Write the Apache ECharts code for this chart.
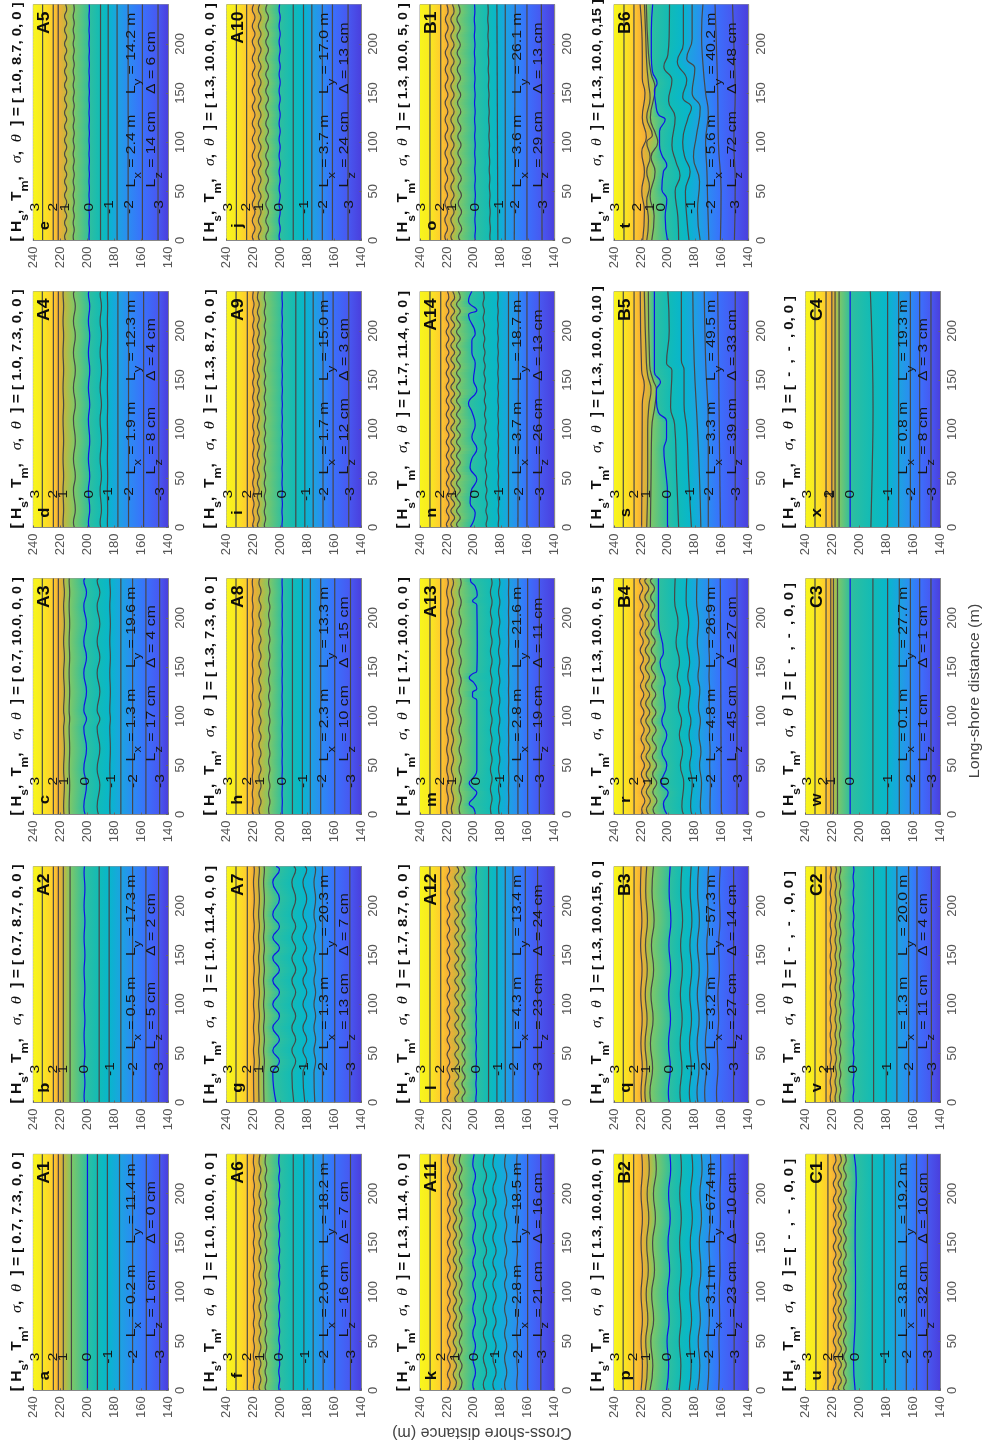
<!DOCTYPE html>
<html><head><meta charset="utf-8">
<style>html,body{margin:0;padding:0;background:#fff}#c{width:983px;height:1448px}</style>
<script src="https://cdn.jsdelivr.net/npm/echarts@6/dist/echarts.min.js"></script>
</head><body><div id="c"></div>
<script>
// ---------- tick labels / axes ----------
const crossShoreTicks = [140,160,180,200,220,240];
const longShoreTicks  = [0,50,100,150,200];
// contour levels, in the order used by the base arrays below
const levels = [3,2,1.5,1,.5,0,-.5,-1,-1.5,-2,-2.5,-3];
const levelColors = ['#F9E921','#FFCB2E','#F4AE37','#C6B63D','#7FC867','#2FBF9E','#12BBB6','#08B6CC','#1CA3E0','#2B8CF2','#3A70FC','#4858F0'];
const edgeColors = ['#F8F61C','#4A3FDD'];
// ---------- panel identity ----------
const letters = ['a','b','c','d','e','f','g','h','i','j','k','l','m','n','o','p','q','r','s','t','u','v','w','x'];
const codes = ['A1','A2','A3','A4','A5','A6','A7','A8','A9','A10','A11','A12','A13','A14','B1','B2','B3','B4','B5','B6','C1','C2','C3','C4'];
const params = ['[ 0.7, 7.3, 0, 0 ]','[ 0.7, 8.7, 0, 0 ]','[ 0.7, 10.0, 0, 0 ]','[ 1.0, 7.3, 0, 0 ]','[ 1.0, 8.7, 0, 0 ]',
 '[ 1.0, 10.0, 0, 0 ]','[ 1.0, 11.4, 0, 0 ]','[ 1.3, 7.3, 0, 0 ]','[ 1.3, 8.7, 0, 0 ]','[ 1.3, 10.0, 0, 0 ]',
 '[ 1.3, 11.4, 0, 0 ]','[ 1.7, 8.7, 0, 0 ]','[ 1.7, 10.0, 0, 0 ]','[ 1.7, 11.4, 0, 0 ]','[ 1.3, 10.0, 5, 0 ]',
 '[ 1.3, 10.0,10, 0 ]','[ 1.3, 10.0,15, 0 ]','[ 1.3, 10.0, 0, 5 ]','[ 1.3, 10.0, 0,10 ]','[ 1.3, 10.0, 0,15 ]',
 '[  -  ,  -  , 0, 0 ]','[  -  ,  -  , 0, 0 ]','[  -  ,  -  , 0, 0 ]','[  -  ,  -  , 0, 0 ]'];
const Lx = ['0.2','0.5','1.3','1.9','2.4','2.0','1.3','2.3','1.7','3.7','2.8','4.3','2.8','3.7','3.6','3.1','3.2','4.8','3.3','5.6','3.8','1.3','0.1','0.8'];
const Ly = ['11.4','17.3','19.6','12.3','14.2','18.2','20.3','13.3','15.0','17.0','18.5','13.4','21.6','18.7','26.1','67.4','57.3','26.9','49.5','40.2','19.2','20.0','27.7','19.3'];
const Lz = [1,5,17,8,14,16,13,10,12,24,21,23,19,26,29,23,27,45,39,72,32,11,1,8];
const Delta = [0,2,4,4,6,7,7,15,3,13,16,24,11,13,13,10,14,27,33,48,10,4,1,3];
// ---------- contour positions (cross-shore m) at long-shore 0 ----------
const baseA1=[233.3,225.1,221.4,217.7,211.7,199.8,192.4,185,176,166.3,156.1,146.2];
const baseA2=[233.3,225.1,221.4,217.7,212.7,202,191.1,183.7,175,166.3,156.4,147];
const baseA3=[233.3,225.1,221.4,217.2,213.2,201.5,191.6,183,175,166.3,156.4,146.2];
const baseA4=[233.3,225.1,221.4,217.7,209.5,198.6,189.9,184.9,177.2,169.3,158.1,146.9];
const baseA5=[233.1,225.2,221.5,216,210,198.5,190.1,184.4,177.8,169.6,159,147.4];
const baseA6=[233.1,224.7,219.8,215.3,210.9,201,190.6,182.7,175.8,168.4,159.8,148.1];
const baseA7=[233.1,224.7,219.8,216,212.3,203.3,190.2,182,174.6,168.9,159.8,148.6];
const baseA8=[233.1,224.7,220.7,215.3,208.4,198.8,191.2,183.8,177.9,170.2,159.8,148.1];
const baseA9=[233.1,224.7,220.2,216.5,211.6,198.8,188.7,182,175.8,168.5,161,149.4];
const baseA10=[232.8,225.2,220,215.5,210,200.7,190.6,183,176.8,169,161.5,149.9];
const baseA11=[232.5,224.2,218.6,214.1,209.8,199.8,191.8,184.7,176.4,167.9,160.1,150.3];
const baseA12=[232.6,224.6,218.9,212.7,207.7,198.3,189.1,182.9,176.7,171,161.8,152.7];
const baseA13=[232.6,224.6,219.6,215.9,210.2,197.8,187.1,181.2,174.2,167.3,160.1,151.4];
const baseA14=[232.6,224.6,219.4,215.7,211.5,201,190.4,181.7,174.3,167.3,160.6,151.4];
const baseB1=[232.6,224.6,220.6,215.9,210.2,199,187.9,182.2,176.7,170,160.6,149.4];
const baseB2=[233.2,225.4,219.4,216.1,212.4,200.3,191,183.5,177.2,170.2,162.1,150.8];
const baseB3=[233.1,225.1,219.4,216.4,212.5,199,190.4,183.4,177.7,172.3,163.6,151.2];
const baseB4=[233.1,225.1,218.2,214.4,209.5,200.8,188.4,182.2,175.2,168.5,160.3,148.7];
const baseB5=[233.1,225.1,219.5,215.7,213,200.3,192,182.5,175.5,170,161,150];
const baseB6=[232.6,225.2,218.7,215.7,212,200.3,192,184.3,176,169.6,161,150.6];
const baseC1=[232.4,223.5,218.5,214.7,210.9,203.3,190.6,181.8,173.4,165.3,157.7,149.6];
const baseC2=[233.1,224.9,221.4,217.7,214.4,204.5,189.6,180.2,172.3,163.6,157.4,146.7];
const baseC3=[233.1,224.9,221.4,219.4,216.4,207,190.1,179.2,170.5,162.3,155.4,147];
const baseC4=[233.1,224.9,220.6,218.2,215.2,207,191.6,179.2,171,162.3,155.4,147];
const bases=[baseA1,baseA2,baseA3,baseA4,baseA5,baseA6,baseA7,baseA8,baseA9,baseA10,baseA11,baseA12,baseA13,baseA14,baseB1,baseB2,baseB3,baseB4,baseB5,baseB6,baseC1,baseC2,baseC3,baseC4];
// contour positions at long-shore 240, where they differ from long-shore 0
const topA14=[232.6,224.6,219.6,215.7,211.5,203,192.9,182.2,174.3,166.8,160.6,151.4];
const topB1=[232.6,224.6,220.1,215.9,211.5,199.5,189.6,182.9,176.7,169.3,160.6,149.9];
const topB2=[233.2,225.4,219.4,214.4,209.3,198.5,190.5,182.2,175.2,168.4,160.9,150.8];
const topB3=[233.1,225.1,219.9,215.7,210.7,198.3,189.6,182.7,177.2,169.8,161.1,151.2];
const topB4=[233.1,225.1,219.9,215.7,211.5,207,194.6,186,178.4,169.8,161.1,148.7];
const tops={13:topA14,14:topB1,15:topB2,16:topB3,17:topB4};
// ---------- long-shore positions of ripple crests and troughs, read per panel ----------
const waveA2=[6,20,36,50,68,84,100,116,134,150,168,184,200,218,234];
const waveA3=[8,30,46,67,88,97,106,125,144,160,176,194,212,226,238];
const waveA4=[5,18,38,52,70,88,110,125,142,160,178,195,210,225,238];
const waveA5=[4,11,18,25,32,39,46,53,60,67,74,81,88,95,102,109,116,123,130,137,144,151,158,165,172,179,186,193,200,207,214,221,228,235];
const waveA6=[3,11,19,27,35,44,52,60,68,76,85,93,101,109,117,126,134,142,150,158,167,175,183,191,199,208,216,224,232];
const waveA7=[30,42,53,64,76,88,100,112,124,135,147,157,168,179,191,207,224,237];
const waveA8=[5,13,21,29,38,46,54,62,71,79,87,95,104,112,120,128,137,145,153,161,170,178,186,194,203,211,219,227,236];
const waveA9=[2,9,16,24,31,38,45,53,60,67,74,82,89,96,103,111,118,125,132,140,147,154,161,169,176,183,190,198,205,212,219,227,234];
const waveA10=[4,12,20,29,37,45,53,62,70,78,86,95,103,111,119,128,136,144,152,161,169,177,185,194,202,210,218,227,235];
const waveA11=[0,8,16,25,33,41,49,58,66,75,83,91,99,108,116,125,133,141,150,158,166,175,183,191,200,208,216,225,233];
const seaA11=[6,18,33,45,58,70,83,96,108,118,130,142,155,168,180,192,205,218,230];
const waveA12=[4,11,19,26,34,41,49,56,64,71,79,86,94,101,109,116,124,131,139,146,154,161,169,176,184,191,199,206,214,221,229,236];
const waveA13=[6,16,26,36,46,56,66,76,86,96,106,116,126,136,146,156,166,176,186,196,206,216,226,236];
const waveA14=[3,10,17,24,31,38,45,52,59,66,73,80,87,94,101,108,115,122,129,136,143,150,157,164,171,178,185,192,199,206,213,220,227,234];
const waveB1=[4,12,21,29,38,46,55,63,72,80,89,97,106,114,123,131,140,148,157,165,174,182,191,199,208,216,225,233];
const waveB2=[0,25,50,72,98,122,150,175,200,225];
const waveB3=[10,35,60,85,110,135,160,185,215];
const waveB4=[5,14,23,32,41,50,59,68,77,86,95,104,113,122,131,140,149,158,167,176,185,194,203,212,221,230,238];
const seaB4=[8,32,50,64,81,95,109,127,140,155,175,195,218];
const waveC1=[2,10,18,26,34,42,50,58,66,74,82,90,98,106,114,122,130,138,146,154,162,170,178,186,194,202,210,218,226,234];
const waveC2=[5,13,21,29,37,45,53,61,69,77,85,93,101,109,117,125,133,141,149,157,165,173,181,189,197,205,213,221,229,237];
const waves={1:waveA2,2:waveA3,3:waveA4,4:waveA5,5:waveA6,6:waveA7,7:waveA8,8:waveA9,9:waveA10,10:waveA11,11:waveA12,12:waveA13,13:waveA14,14:waveB1,15:waveB2,16:waveB3,17:waveB4,20:waveC1,21:waveC2};
const seaWaves={10:seaA11,17:seaB4};
// ripple size of each contour, metres (levels order)
const ampA2=[0,0,0,0,0,.3,0,0,0,0,0,0];
const ampA3=[0,0,0,.3,.2,1,1,.2,0,0,0,0];
const ampA4=[0,0,0,.2,.7,.5,.5,.1,0,0,0,0];
const ampA5=[0,0,0,.8,.4,.15,0,0,0,0,0,0];
const ampA6=[0,0,.4,.7,.6,.35,0,0,0,0,0,0];
const ampA7=[0,0,.3,.3,.3,2.5,1.4,1.4,.6,0,0,0];
const ampA8=[0,0,.3,.8,.5,.1,0,0,0,0,0,0];
const ampA9=[0,0,.5,.7,.5,.15,0,0,0,0,0,0];
const ampA10=[0,0,1,1,1,.4,0,0,0,0,0,0];
const ampA11=[0,0,1,1.2,1,0,0,0,0,0,0,0];
const seaAmpA11=[0,0,0,0,0,1,1.2,1.2,.8,.3,0,0];
const ampA12=[0,0,1,1.5,1.2,.2,0,0,0,0,0,0];
const ampA13=[0,0,.6,.8,.8,0,.6,.5,.1,0,0,0];
const ampA14=[0,0,1,1.4,1.4,0,.5,.2,0,0,0,0];
const ampB1=[0,0,1,1.2,1.2,.2,.2,0,0,0,0,0];
const ampB2=[0,0,.5,.7,.9,.7,.6,.7,.7,.4,.2,0];
const ampB3=[0,0,.5,.7,.9,.7,.7,.7,.7,.5,.4,0];
const ampB4=[0,0,1.2,1.5,1.5,0,0,0,0,0,0,0];
const seaAmpB4=[0,0,0,0,0,0,1,.8,.6,.2,0,0];
const ampC1=[0,0,1,1.2,1,0,0,0,0,0,0,0];
const ampC2=[0,0,.4,.5,.5,.3,0,0,0,0,0,0];
const amps={1:ampA2,2:ampA3,3:ampA4,4:ampA5,5:ampA6,6:ampA7,7:ampA8,8:ampA9,9:ampA10,10:ampA11,11:ampA12,12:ampA13,13:ampA14,14:ampB1,15:ampB2,16:ampB3,17:ampB4,20:ampC1,21:ampC2};
const seaAmps={10:seaAmpA11,17:seaAmpB4};
// ---------- contours traced individually: [long-shore, cross-shore] ----------
const zeroA13=[[0,199],[6,200],[11,203.5],[17,200],[22,197.8],[27,201],[32,203.5],[38,200],[45,197.8],[116,197.8],[120,201],[124,201],[128,197.8],[134,200],[139,203.5],[143,201],[146,197.8],[170,197.5],[213,197.8],[217,201],[223,197.5],[232,199],[238,202.5],[240,202.5]];
const zeroA14=[[0,202.8],[15,199],[25,202.8],[37,202],[49,197.8],[61,202.8],[70,201.5],[80,197.8],[92,201.5],[104,199],[118,201.5],[126,204],[140,197.8],[150,200.3],[167,199],[178,201.5],[190,201.5],[197,199],[216,204],[221,197.8],[230,204],[240,201.5]];
const zeroB4=[[0,200.6],[11,203.3],[22,199.8],[32,205],[50,200.8],[64,204.5],[81,200.8],[95,204.5],[109,202],[127,203.3],[134,202],[155,205.8],[165,203.3],[197,207],[240,207]];
const zeroB5=[[0,200.3],[35,200.3],[56,201.5],[80,203],[91,201],[108,201],[117,207],[129,208.5],[140,208.5],[148,205.5],[158,210],[171,210],[209,210],[240,210]];
const tracedB5={
 2:[[0,219.5],[125,219],[145,217.5],[160,219.5],[240,220.5]],
 3:[[0,215.7],[50,215],[100,215],[125,214],[140,212.5],[155,215],[170,216],[240,217.5]],
 4:[[0,213],[50,212.5],[100,212],[125,209.5],[140,208.5],[150,211],[165,213.5],[240,214.5]],
 5:zeroB5,
 6:[[0,192],[53,193.5],[105,195],[122,198],[160,197],[167,201],[200,199],[240,200]],
 7:[[0,182.5],[50,184.5],[100,186],[125,188],[160,188],[170,190],[240,190]],
 8:[[0,175.5],[50,176.5],[100,178],[170,180.5],[240,181.5]],
 9:[[0,170],[50,170],[100,170],[170,172],[240,173]],
 10:[[0,161],[240,163]],11:[[0,150],[240,150]]};
const tracedB6={
 2:[[0,218.7],[30,217.4],[50,219.4],[70,217.4],[90,219.4],[105,216],[125,219],[150,217],[165,219],[190,219],[215,219.4],[240,220.6]],
 3:[[0,215.7],[20,214.4],[40,215.7],[55,213.7],[70,215.7],[85,213.2],[100,215.7],[107,211.5],[125,215.7],[145,213.2],[160,214.4],[180,215.7],[210,216.5],[240,217.4]],
 4:[[0,212],[25,210.2],[45,213.2],[70,209.5],[85,212.5],[100,207.5],[108,209],[125,213],[155,209.5],[170,212.5],[190,214.4],[240,216]],
 5:[[0,200.3],[24,202],[42,200.8],[52,204.5],[70,203.3],[76,200.8],[87,204.5],[97,206.2],[111,206.2],[123,202],[128,207],[139,209],[153,210],[160,208],[172,211.5],[188,212.3],[212,212.3],[240,211.3]],
 6:[[0,192],[24,192.6],[50,194.6],[66,191],[80,194],[97,197],[125,194.6],[142,199.5],[163,197],[177,203],[189,200],[212,199],[240,198.8]],
 7:[[0,184.3],[24,186],[50,187],[70,183.5],[85,187.5],[100,189],[125,185],[135,182.5],[146,189],[163,186],[182,193],[200,188.5],[240,188.5]],
 8:[[0,176],[30,178],[60,176.5],[85,181],[105,179],[135,176],[150,182],[175,180],[185,186],[205,182],[240,182]],
 9:[[0,169.6],[40,170.5],[70,171],[100,172],[130,170],[150,172],[180,174],[210,175],[240,174]],
 10:[[0,161],[50,160.5],[100,162.5],[150,163],[200,164],[240,165]],
 11:[[0,150.6],[60,150],[100,151],[150,150],[200,151],[240,152]]};
const traced={12:{5:zeroA13},13:{5:zeroA14},17:{5:zeroB4},18:tracedB5,19:tracedB6,
 20:{5:[[0,203.3],[30,204.5],[70,203.3],[110,203],[150,203.3],[190,203],[215,202.5],[240,204]]},
 23:{6:[[0,191.6],[60,190.6],[120,190],[180,190.6],[240,192]]}};
// contour-label positions that do not sit on their contour: {level index: cross-shore}
const labelShift={21:{3:221.5,1:226.5},22:{3:221,1:227},23:{3:222,1:222.5},19:{1:223,3:213,5:205,7:183.4,9:168.5,11:150.4},
 18:{3:216,5:200.5,7:184},13:{5:199},6:{5:204,7:183},12:{5:198},17:{5:202}};
// ---------- layout ----------
const colLefts=[33.3,226.7,420,614,805.7], rowTops=[1154.3,866.5,578.5,291.5,4.5], panelW=134.7, panelH=236;
const textColor='#161616', axisColor='#555';
const labelLevels=[1,3,5,7,9,11];
const labelTexts=['2','1','0','-1','-2','-3'];

function contour(p,k){
  if(traced[p]&&traced[p][k]) return traced[p][k];
  const b=bases[p][k], t=(tops[p]||bases[p])[k], line=L=>b+(t-b)*L/240;
  let w=null,a=0;
  if(amps[p]&&amps[p][k]){w=waves[p];a=amps[p][k];}
  else if(seaAmps[p]&&seaAmps[p][k]){w=seaWaves[p];a=seaAmps[p][k];}
  if(!w) return [[0,b],[240,t]];
  const pts=w.map((L,i)=>[L,line(L)+(i%2?-a:a)]);
  if(pts[0][0]>0) pts.unshift([0,b]);
  pts.push([240,t]);
  return pts;
}
function at(pts,L){
  for(let i=1;i<pts.length;i++) if(L<=pts[i][0]){
    const f=(L-pts[i-1][0])/(pts[i][0]-pts[i-1][0]);
    return pts[i-1][1]+f*(pts[i][1]-pts[i-1][1]);
  }
  return pts[pts.length-1][1];
}
const strips=[];
for(let L=0;L<240;L+=3) strips.push([L,L+3]);

const grids=[],xAxes=[],yAxes=[],series=[],graphics=[];
const FONT='"Liberation Sans"';
const richL={n:{fontSize:13.5,fill:textColor,fontFamily:FONT},
  s:{fontSize:11,fill:textColor,fontFamily:FONT,verticalAlign:'bottom',padding:[15,0,0,0]}};
const richT={t:{fontSize:14.2,fontWeight:'bold',fill:'#111',fontFamily:FONT},
  v:{fontSize:13.6,fontWeight:'bold',fill:'#111',fontFamily:FONT},
  s:{fontSize:11.5,fontWeight:'bold',fill:'#111',fontFamily:FONT,verticalAlign:'bottom',padding:[16,0,0,0]},
  g:{fontSize:15,fontStyle:'italic',fill:'#111',fontFamily:'"Liberation Serif"'}};

letters.forEach((lt,p)=>{
  const col=(p<5?0:p<10?1:p<15?2:p<20?3:4);
  const row=(p<20?p%5:p-20);
  const left=colLefts[col],top=rowTops[row];
  grids.push({left:left,top:top,width:panelW,height:panelH,show:true,borderColor:'#999',borderWidth:1,backgroundColor:'transparent'});
  xAxes.push({gridIndex:p,type:'value',min:crossShoreTicks[0],max:crossShoreTicks[crossShoreTicks.length-1],interval:20,inverse:true,position:'bottom',z:6,
    axisLine:{show:true,onZero:false,lineStyle:{color:'#888',width:1}},axisTick:{inside:true,length:2,lineStyle:{color:'#666'}},
    axisLabel:{rotate:90,fontSize:13,margin:6,color:axisColor,fontFamily:'Liberation Sans',hideOverlap:false},splitLine:{show:false}});
  yAxes.push({gridIndex:p,type:'value',min:longShoreTicks[0],max:240,interval:50,position:'right',z:6,
    axisLine:{show:true,onZero:false,lineStyle:{color:'#888',width:1}},axisTick:{inside:true,length:2,lineStyle:{color:'#666'}},
    axisLabel:{rotate:90,fontSize:13,margin:6,color:axisColor,fontFamily:'Liberation Sans',showMaxLabel:false,hideOverlap:false},splitLine:{show:false}});
  const cs=levels.map((_,k)=>contour(p,k));
  series.push({type:'custom',xAxisIndex:p,yAxisIndex:p,coordinateSystem:'cartesian2d',silent:true,z:1,clip:true,data:strips,
    renderItem:(params,api)=>{
      const L0=api.value(0),L1=api.value(1);
      const a=api.coord([240,L1]),b=api.coord([140,L0]);
      const mid=(L0+L1)/2;
      const stops=[{offset:0,color:edgeColors[0]}];
      let last=0;
      cs.forEach((pts,k)=>{
        let off=Math.min(1,Math.max(last,(240-at(pts,mid))/100));last=off;
        stops.push({offset:off,color:levelColors[k]});
      });
      stops.push({offset:1,color:edgeColors[1]});
      const y0=Math.floor(a[1]),y1=Math.ceil(b[1]);
      return {type:'rect',shape:{x:a[0],y:y0,width:b[0]-a[0],height:y1-y0},
        style:{fill:{type:'linear',x:0,y:0,x2:1,y2:0,colorStops:stops}}};
    }});
  cs.forEach((pts,k)=>{
    series.push({type:'line',xAxisIndex:p,yAxisIndex:p,z:2,silent:true,showSymbol:false,smooth:pts.length>2?0.5:false,
      data:pts.map(q=>[q[1],q[0]]),
      lineStyle:{color:levels[k]===0?'#1212E6':'#484848',width:1.2}});
  });
  // texts placed through the axes
  const plain=(cx,L,s)=>({at:[cx,L],sx:1.15,style:{text:s,fontSize:13.5,fontFamily:FONT,fill:textColor,align:'center',verticalAlign:'middle'}});
  const bold=(cx,L,s,size,al)=>({at:[cx,L],sx:1.1,style:{text:s,fontSize:size,fontWeight:'bold',fontFamily:FONT,fill:'#0c0c0c',align:al,verticalAlign:'middle'}});
  const rich=(cx,L,s)=>({at:[cx,L],sx:1.17,style:{text:s,rich:richL,align:'left',verticalAlign:'middle'}});
  const items=[plain(238.8,34,'3')];
  labelLevels.forEach((k,i)=>{
    const pos=(labelShift[p]&&labelShift[p][k]!==undefined)?labelShift[p][k]:bases[p][k];
    items.push(plain(pos-(i>=3?0.8:0),34,labelTexts[i]));
  });
  items.push(bold(231.4,15,lt,15,'center'));
  items.push(bold(231.4,233,codes[p],16,'right'));
  items.push(rich(167.5,54,'{n|L}{s|x}{n| = '+Lx[p]+' m}'));
  items.push(rich(152.5,54,'{n|L}{s|z}{n| = '+Lz[p]+' cm}'));
  items.push(rich(167.5,149,'{n|L}{s|y}{n| = '+Ly[p]+' m}'));
  items.push(rich(152.5,149,'{n|\u0394 = '+Delta[p]+' cm}'));
  series.push({type:'custom',xAxisIndex:p,yAxisIndex:p,coordinateSystem:'cartesian2d',silent:true,z:3,clip:false,
    data:items.map(it=>it.at),
    renderItem:(params,api)=>{
      const it=items[params.dataIndex];
      const c=api.coord([api.value(0),api.value(1)]);
      return {type:'text',x:c[0],y:c[1],rotation:Math.PI/2,scaleX:it.sx,scaleY:1,style:it.style};
    }});
  const wideTitle=/1\d\.\d/.test(params[p]);
  graphics.push({type:'text',x:left-16.5,y:top+panelH+1,rotation:Math.PI/2,scaleX:wideTitle?1.05:1.09,z:10,
    style:{text:'{t|[ H}{s|s}{t|,  T}{s|m}{t|,   }{g|\u03C3}{t|,  }{g|\u03B8}{t|  ] = }{v|'+params[p]+'}',rich:richT,align:'left',verticalAlign:'middle'}});
});
graphics.push({type:'text',x:975.5,y:691,rotation:Math.PI/2,scaleX:1.15,z:10,style:{text:'Long-shore distance (m)',fontSize:14,fontFamily:FONT,fill:'#444',align:'center',verticalAlign:'middle'}});
graphics.push({type:'text',x:482,y:1432,rotation:Math.PI,z:10,style:{text:'Cross-shore distance (m)',fontSize:16,fontFamily:FONT,fill:'#444',align:'center',verticalAlign:'middle'}});

const chart=echarts.init(document.getElementById('c'),null,{renderer:'canvas'});
chart.setOption({animation:false,backgroundColor:'#fff',tooltip:{show:false},grid:grids,xAxis:xAxes,yAxis:yAxes,series:series,graphic:graphics});
</script></body></html>
